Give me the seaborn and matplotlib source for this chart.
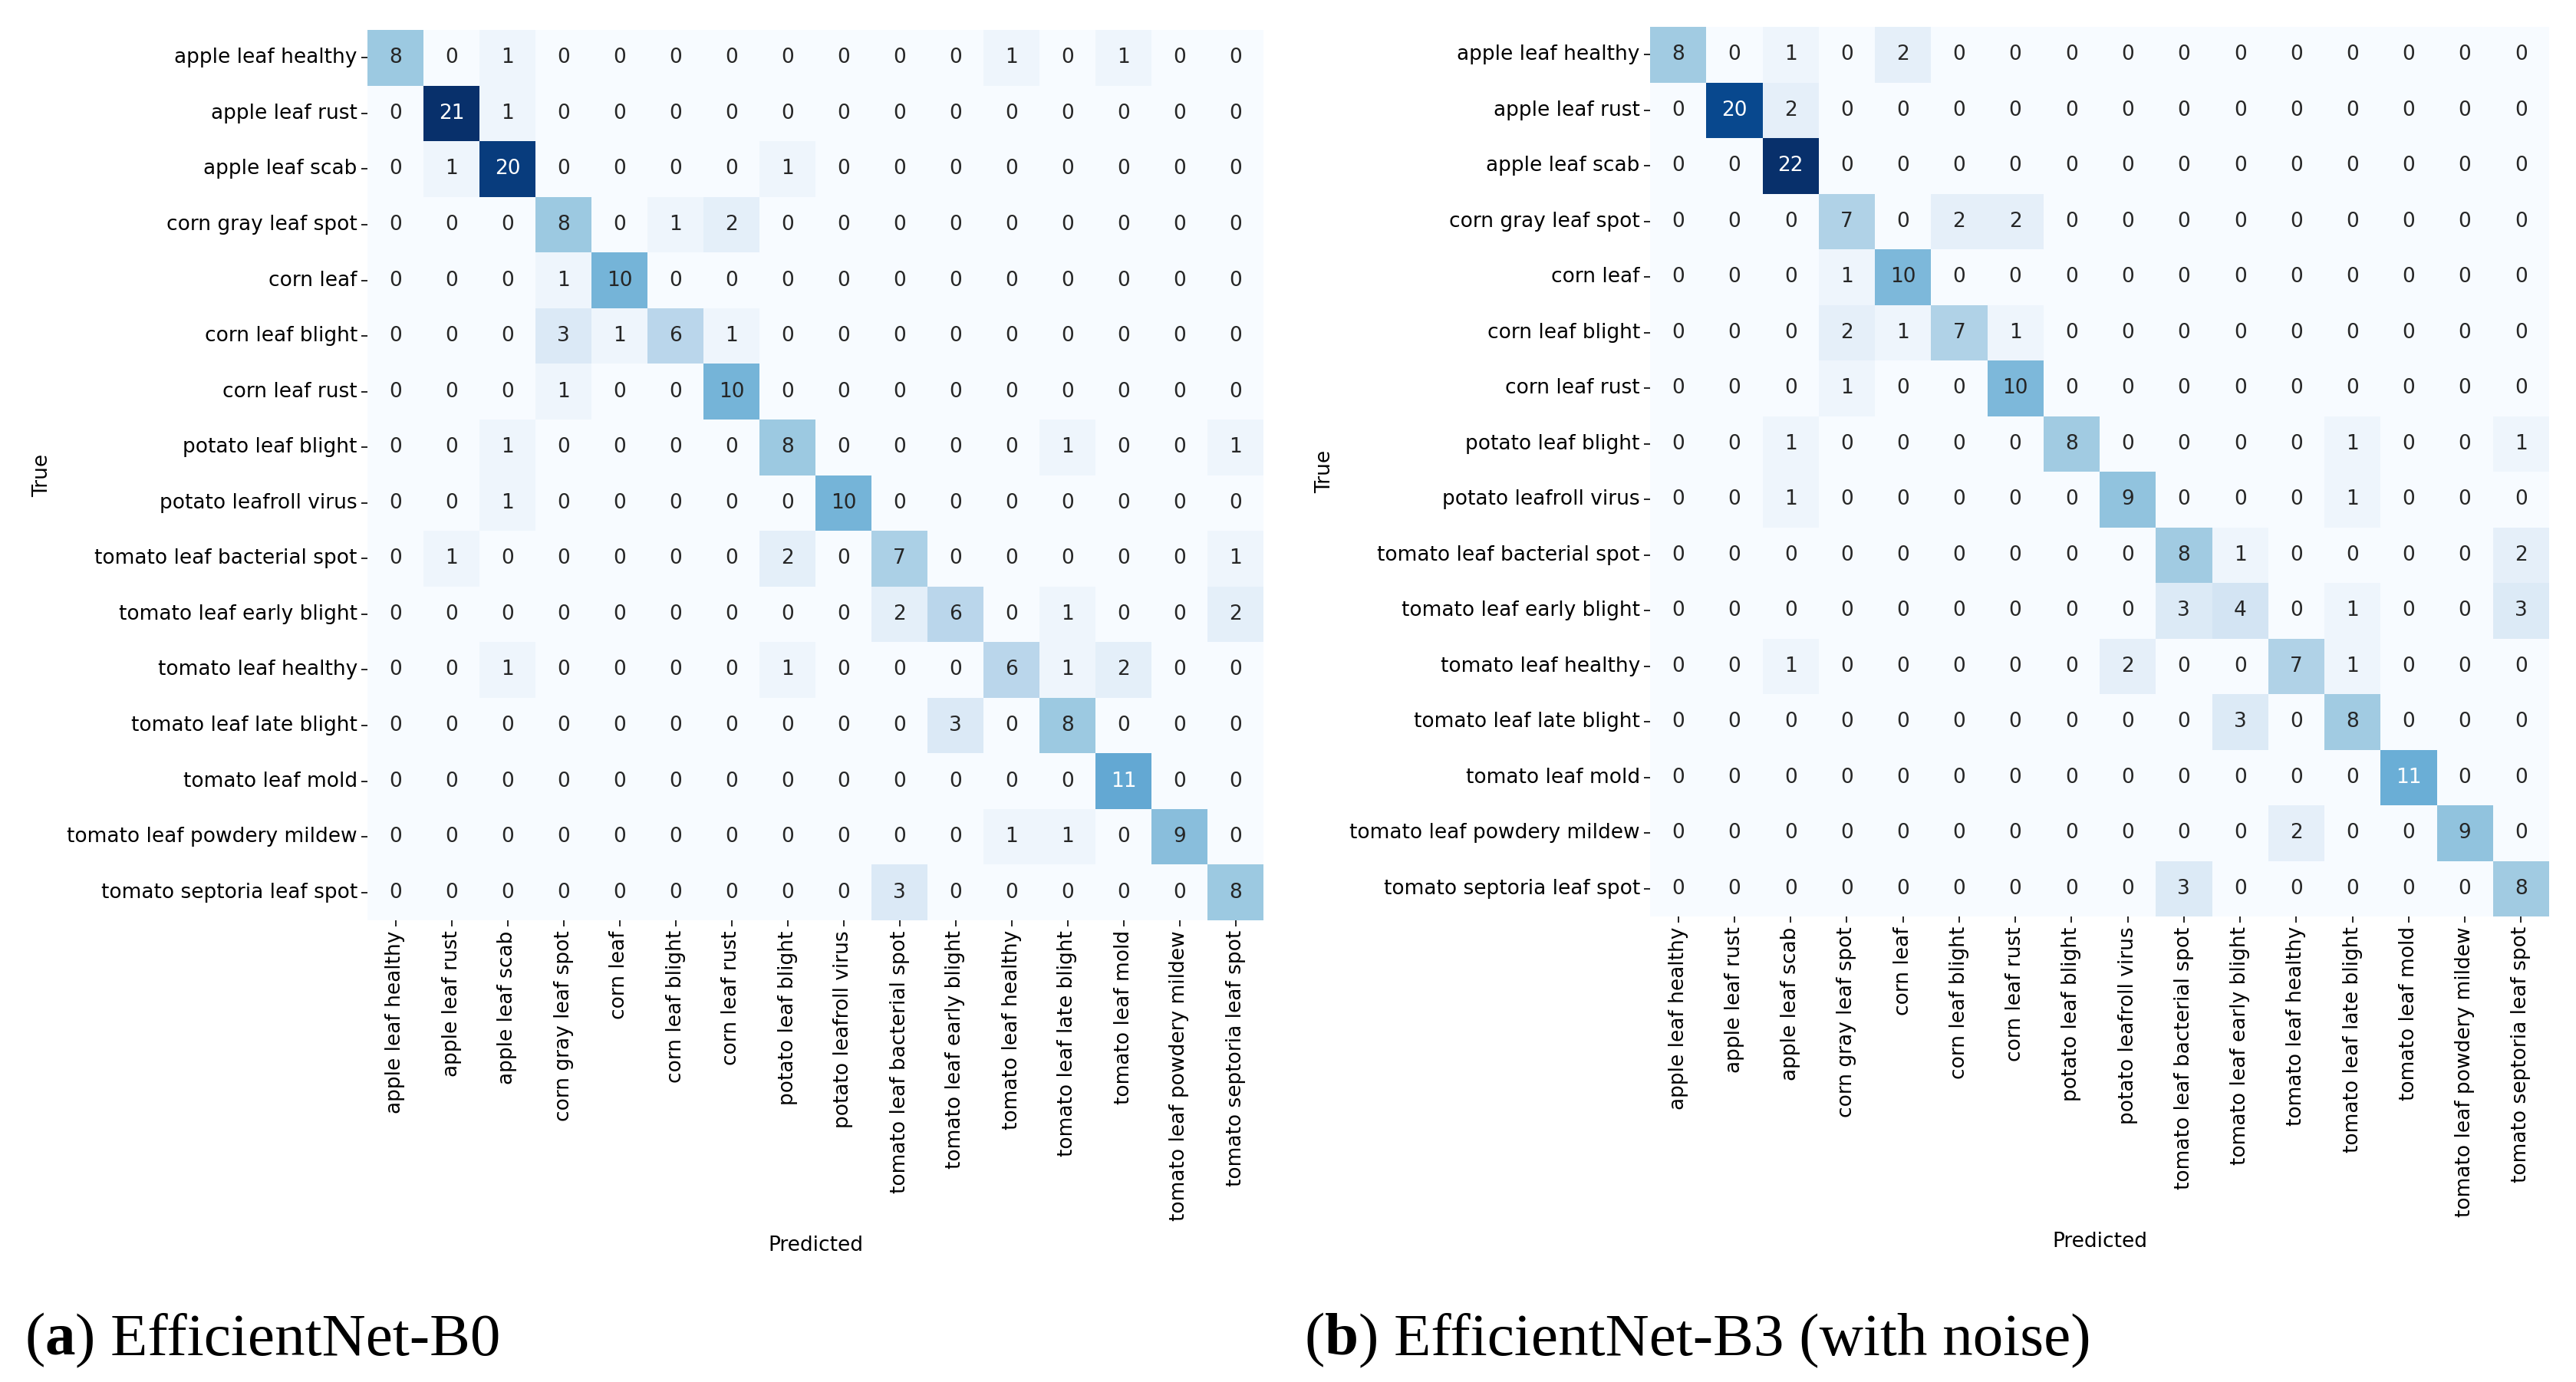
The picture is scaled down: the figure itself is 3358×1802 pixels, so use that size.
import numpy as np
import pandas as pd
import matplotlib
matplotlib.use('Agg')
import matplotlib.pyplot as plt
import seaborn as sns

classes = ['apple leaf healthy', 'apple leaf rust', 'apple leaf scab', 'corn gray leaf spot',
           'corn leaf', 'corn leaf blight', 'corn leaf rust', 'potato leaf blight',
           'potato leafroll virus', 'tomato leaf bacterial spot', 'tomato leaf early blight',
           'tomato leaf healthy', 'tomato leaf late blight', 'tomato leaf mold',
           'tomato leaf powdery mildew', 'tomato septoria leaf spot']

# EfficientNet-B0 confusion matrix (rows = true, cols = predicted)
cm_b0 = [
    [8, 0, 1, 0, 0, 0, 0, 0, 0, 0, 0, 1, 0, 1, 0, 0],
    [0, 21, 1, 0, 0, 0, 0, 0, 0, 0, 0, 0, 0, 0, 0, 0],
    [0, 1, 20, 0, 0, 0, 0, 1, 0, 0, 0, 0, 0, 0, 0, 0],
    [0, 0, 0, 8, 0, 1, 2, 0, 0, 0, 0, 0, 0, 0, 0, 0],
    [0, 0, 0, 1, 10, 0, 0, 0, 0, 0, 0, 0, 0, 0, 0, 0],
    [0, 0, 0, 3, 1, 6, 1, 0, 0, 0, 0, 0, 0, 0, 0, 0],
    [0, 0, 0, 1, 0, 0, 10, 0, 0, 0, 0, 0, 0, 0, 0, 0],
    [0, 0, 1, 0, 0, 0, 0, 8, 0, 0, 0, 0, 1, 0, 0, 1],
    [0, 0, 1, 0, 0, 0, 0, 0, 10, 0, 0, 0, 0, 0, 0, 0],
    [0, 1, 0, 0, 0, 0, 0, 2, 0, 7, 0, 0, 0, 0, 0, 1],
    [0, 0, 0, 0, 0, 0, 0, 0, 0, 2, 6, 0, 1, 0, 0, 2],
    [0, 0, 1, 0, 0, 0, 0, 1, 0, 0, 0, 6, 1, 2, 0, 0],
    [0, 0, 0, 0, 0, 0, 0, 0, 0, 0, 3, 0, 8, 0, 0, 0],
    [0, 0, 0, 0, 0, 0, 0, 0, 0, 0, 0, 0, 0, 11, 0, 0],
    [0, 0, 0, 0, 0, 0, 0, 0, 0, 0, 0, 1, 1, 0, 9, 0],
    [0, 0, 0, 0, 0, 0, 0, 0, 0, 3, 0, 0, 0, 0, 0, 8],
]

# EfficientNet-B3 (with noise) confusion matrix
cm_b3 = [
    [8, 0, 1, 0, 2, 0, 0, 0, 0, 0, 0, 0, 0, 0, 0, 0],
    [0, 20, 2, 0, 0, 0, 0, 0, 0, 0, 0, 0, 0, 0, 0, 0],
    [0, 0, 22, 0, 0, 0, 0, 0, 0, 0, 0, 0, 0, 0, 0, 0],
    [0, 0, 0, 7, 0, 2, 2, 0, 0, 0, 0, 0, 0, 0, 0, 0],
    [0, 0, 0, 1, 10, 0, 0, 0, 0, 0, 0, 0, 0, 0, 0, 0],
    [0, 0, 0, 2, 1, 7, 1, 0, 0, 0, 0, 0, 0, 0, 0, 0],
    [0, 0, 0, 1, 0, 0, 10, 0, 0, 0, 0, 0, 0, 0, 0, 0],
    [0, 0, 1, 0, 0, 0, 0, 8, 0, 0, 0, 0, 1, 0, 0, 1],
    [0, 0, 1, 0, 0, 0, 0, 0, 9, 0, 0, 0, 1, 0, 0, 0],
    [0, 0, 0, 0, 0, 0, 0, 0, 0, 8, 1, 0, 0, 0, 0, 2],
    [0, 0, 0, 0, 0, 0, 0, 0, 0, 3, 4, 0, 1, 0, 0, 3],
    [0, 0, 1, 0, 0, 0, 0, 0, 2, 0, 0, 7, 1, 0, 0, 0],
    [0, 0, 0, 0, 0, 0, 0, 0, 0, 0, 3, 0, 8, 0, 0, 0],
    [0, 0, 0, 0, 0, 0, 0, 0, 0, 0, 0, 0, 0, 11, 0, 0],
    [0, 0, 0, 0, 0, 0, 0, 0, 0, 0, 0, 2, 0, 0, 9, 0],
    [0, 0, 0, 0, 0, 0, 0, 0, 0, 3, 0, 0, 0, 0, 0, 8],
]

captions = [('a', ') EfficientNet-B0'), ('b', ') EfficientNet-B3 (with noise)')]

W, H = 3358, 1802
fig = plt.figure(figsize=(W / 100, H / 100), dpi=100)

# axes boxes in pixels: left, top, right, bottom
boxes = [(479, 39, 1647, 1200), (2151, 35, 3323, 1195)]
cap_x = [32, 1701]
FS = 19
CAP_FS = 57

for cm, box, cap, cx in zip([cm_b0, cm_b3], boxes, captions, cap_x):
    l, t, r, b = box
    ax = fig.add_axes([l / W, 1 - b / H, (r - l) / W, (b - t) / H])
    df = pd.DataFrame(np.array(cm), index=classes, columns=classes)
    sns.heatmap(df, annot=True, fmt='d', cmap='Blues', cbar=False, ax=ax,
                annot_kws={'size': FS})
    ax.set_xlabel('Predicted', fontsize=FS, labelpad=14)
    ax.set_ylabel('True', fontsize=FS, labelpad=14)
    ax.tick_params(axis='both', labelsize=FS, length=6, width=1.2)
    plt.setp(ax.get_xticklabels(), rotation=90)
    plt.setp(ax.get_yticklabels(), rotation=0)

    # subfigure caption: "(" + bold letter + rest
    t1 = fig.text(cx / W, 1 - 1766 / H, '(', fontsize=CAP_FS, family='Liberation Serif',
                  va='baseline')
    a2 = ax.annotate(cap[0], xy=(1, 0), xycoords=t1, fontsize=CAP_FS,
                     family='Liberation Serif', fontweight='bold',
                     va='bottom', ha='left', annotation_clip=False)
    ax.annotate(cap[1], xy=(1, 0), xycoords=a2, fontsize=CAP_FS,
                family='Liberation Serif', va='bottom', ha='left', annotation_clip=False)

plt.savefig('out.png', dpi=100)
